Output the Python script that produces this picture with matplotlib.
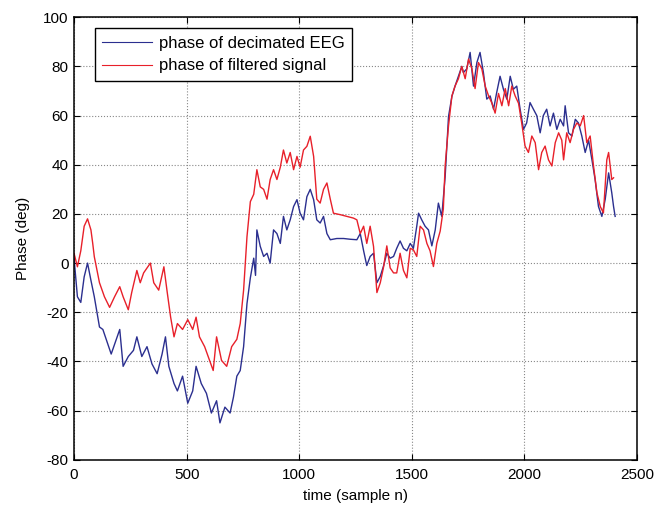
import matplotlib
matplotlib.use("Agg")
import matplotlib.pyplot as plt
import numpy as np

# Fase de la señal EEG decimada (azul)
n_decimada = [0, 15, 30, 45, 60, 75, 90, 113, 128, 143, 165, 180, 203, 218, 241, 264, 279, 301, 324,
              346, 369, 391, 406, 421, 444, 459, 482, 505, 527, 542, 565, 588, 610, 633, 648, 670, 693,
              708, 723, 738, 753, 768, 783, 798, 806, 812, 827, 842, 857, 871, 886, 901, 916, 930, 945,
              960, 975, 990, 1004, 1019, 1034, 1049, 1064, 1078, 1093, 1108, 1123, 1138, 1167, 1197,
              1226, 1256, 1271, 1286, 1300, 1315, 1330, 1345, 1360, 1375, 1389, 1404, 1419, 1433, 1448,
              1463, 1478, 1493, 1507, 1522, 1530, 1544, 1559, 1574, 1589, 1604, 1618, 1633, 1648, 1663,
              1678, 1692, 1707, 1722, 1729, 1744, 1759, 1774, 1789, 1803, 1818, 1833, 1848, 1863, 1877,
              1892, 1907, 1922, 1937, 1951, 1966, 1981, 1996, 2010, 2025, 2040, 2055, 2070, 2084, 2099,
              2114, 2129, 2144, 2159, 2174, 2181, 2196, 2211, 2226, 2240, 2255, 2270, 2285, 2300, 2314,
              2329, 2344, 2359, 2374, 2388, 2396, 2403]
fase_decimada = [2, -13.7, -16, -5.6, 0, -7, -13.7, -26, -27, -31, -37, -33, -27, -42, -38, -35.5, -30,
                 -38, -34, -41, -45, -37, -30, -42, -49, -52, -46, -57, -52, -42, -49, -53, -61, -56,
                 -65, -58.6, -61, -54.5, -46, -43.7, -34, -16.5, -6, 2, -5, 13.5, 6.8, 2.7, 4, 0, 13.5,
                 12, 8, 19, 13.5, 17.6, 23, 25.8, 20.3, 17.6, 27, 30, 25.8, 17.6, 16.3, 19, 12, 9.5, 10,
                 10, 9.7, 9.5, 12, 5, -1, 2.7, 4, -8, -5.4, -1, 4, 2, 2.7, 6, 9, 6, 5, 8, 6, 15, 20.3,
                 17.6, 15, 13.5, 7, 13.5, 24.4, 19, 35, 59.6, 67.8, 72, 76, 80, 77.5, 79, 85.7, 72, 81.6,
                 85.7, 77.5, 66.7, 68, 62.6, 69.4, 76, 70.7, 66.7, 76, 70.7, 72, 62.6, 54.4, 57, 65.3,
                 62.6, 60, 53, 60, 62.6, 55.8, 61, 54.4, 58.5, 55.8, 64, 53, 51.7, 58.5, 57, 51.7, 45,
                 50, 42, 34, 23, 19, 26, 36.7, 28.6, 23, 19]

# Fase de la señal filtrada (rojo)
n_filtrada = [0, 15, 30, 45, 60, 75, 83, 90, 113, 135, 158, 180, 203, 218, 241, 256, 279, 294, 309,
              339, 354, 376, 399, 414, 429, 444, 459, 482, 505, 527, 542, 557, 580, 602, 618, 633, 655,
              678, 700, 723, 738, 753, 768, 783, 798, 812, 827, 842, 857, 871, 886, 901, 916, 930, 945,
              960, 975, 990, 1004, 1019, 1034, 1049, 1064, 1078, 1093, 1108, 1123, 1138, 1152, 1182,
              1212, 1241, 1256, 1271, 1286, 1300, 1315, 1330, 1345, 1360, 1375, 1389, 1404, 1419, 1433,
              1448, 1463, 1478, 1493, 1507, 1522, 1537, 1552, 1567, 1581, 1596, 1611, 1626, 1640, 1648,
              1663, 1678, 1692, 1707, 1722, 1737, 1752, 1767, 1781, 1796, 1811, 1826, 1841, 1856, 1870,
              1885, 1900, 1915, 1930, 1944, 1959, 1974, 1988, 2003, 2018, 2033, 2048, 2063, 2077, 2092,
              2107, 2122, 2137, 2152, 2166, 2174, 2188, 2203, 2218, 2233, 2248, 2263, 2277, 2292, 2307,
              2322, 2337, 2351, 2366, 2374, 2381, 2388, 2396]
fase_filtrada = [4, -1.5, 5, 15, 18, 13.5, 8, 2.6, -8, -13.7, -18, -13.7, -9.6, -13.7, -19, -12, -3, -8,
                 -4, 0, -8, -11, -1.5, -12, -22, -30, -24.6, -27, -23, -27, -22, -30, -34, -39.6, -43.7,
                 -30, -39.6, -42, -34, -31, -24.6, -11, 10.7, 25, 28, 38, 31, 30, 26, 34, 38, 34, 39, 46,
                 40.7, 45, 38, 43.4, 39, 46, 47.5, 51.6, 43.4, 26, 24.4, 30, 32.6, 26, 20.3, 19.7, 19,
                 18.3, 17.6, 12, 15, 8, 15, 6.8, -12, -8, -1.4, 7, -2, -4, -4, 4, -3, -6, 6, 5.4, 2.7,
                 15, 13.5, 8, 5, -1.4, 8, 13, 22, 39.5, 55.8, 68, 72, 75, 80, 75, 83, 79, 71, 81.6, 79,
                 72, 68, 65, 61, 69, 64, 71, 64, 72, 68, 65, 57, 47.6, 45, 51.7, 49, 38, 45, 47.6, 42,
                 39.5, 49, 53, 50, 42, 53, 49, 54.4, 57, 55.8, 60, 49, 51.7, 39.5, 28.6, 23, 20.4, 42,
                 45, 39.5, 34, 34.7]

plt.rcParams['font.family'] = ['Liberation Sans', 'DejaVu Sans']
plt.rcParams['font.size'] = 11
plt.rcParams['axes.unicode_minus'] = False

fig = plt.figure(figsize=(6.67, 5.08), dpi=100)
ax = fig.add_axes([0.111, 0.095, 0.844, 0.871])

ax.plot(n_decimada, fase_decimada, color='#2b2f8f', linewidth=1.0, label='phase of decimated EEG')
ax.plot(n_filtrada, fase_filtrada, color='#e8202a', linewidth=1.0, label='phase of filtered signal')

ax.set_xlim(0, 2500)
ax.set_ylim(-80, 100)
ax.set_xticks(np.arange(0, 2501, 500))
ax.set_yticks(np.arange(-80, 101, 20))
ax.set_xlabel('time (sample n)', labelpad=5)
ax.set_ylabel('Phase (deg)', labelpad=9)

ax.grid(True, linestyle=':', color='#888888', linewidth=0.8)
ax.tick_params(direction='in', top=True, right=True, length=4, width=0.8)
ax.tick_params(axis='x', pad=6)
ax.tick_params(axis='y', pad=4)
for lado in ax.spines.values():
    lado.set_linewidth(1.1)

leyenda = ax.legend(loc='upper left', bbox_to_anchor=(0.037, 0.975), fancybox=False,
                    edgecolor='black', framealpha=1, handlelength=3.0, handletextpad=0.4,
                    borderpad=0.45, labelspacing=0.45, borderaxespad=0, fontsize=12)
leyenda.get_frame().set_linewidth(1.0)
for linea in leyenda.get_lines():
    linea.set_linewidth(0.8)

plt.savefig('out.png', dpi=100)
plt.close(fig)
